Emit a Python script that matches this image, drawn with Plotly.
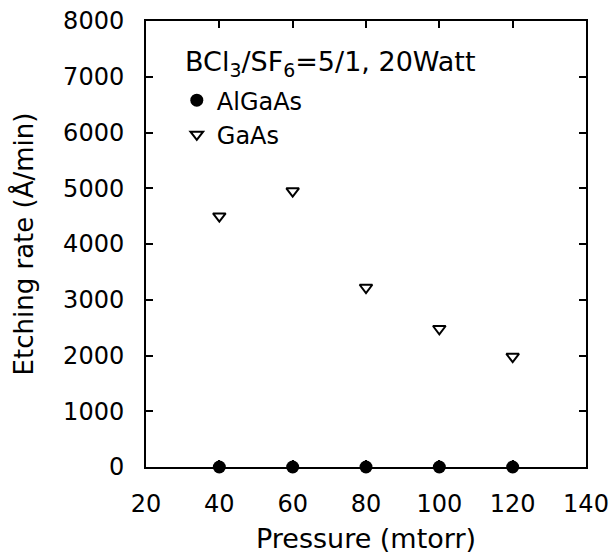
import plotly.graph_objects as go

pressure = [40, 60, 80, 100, 120]
algaas_rate = [0, 0, 0, 0, 0]
gaas_rate = [4500, 4950, 3220, 2480, 1980]
x_ticks = [20, 40, 60, 80, 100, 120, 140]
y_ticks = [0, 1000, 2000, 3000, 4000, 5000, 6000, 7000, 8000]

FONT = "DejaVu Sans"

fig = go.Figure()
fig.add_trace(go.Scatter(
    x=pressure, y=algaas_rate, mode="markers", name="AlGaAs",
    marker=dict(symbol="circle", size=13, color="black"),
    cliponaxis=False,
))
fig.add_trace(go.Scatter(
    x=pressure, y=gaas_rate, mode="markers", name="GaAs",
    marker=dict(symbol="triangle-down-open", size=11, color="black",
                line=dict(width=2, color="black")),
    cliponaxis=False,
))

axis_common = dict(
    showline=True, linecolor="black", linewidth=2, mirror="ticks",
    ticks="inside", ticklen=7, tickwidth=2, tickcolor="black",
    showgrid=False, zeroline=False, automargin=False,
    tickfont=dict(family=FONT, size=24, color="black"),
)

fig.update_xaxes(
    range=[20, 140], tickvals=x_ticks,
    title=dict(text="Pressure (mtorr)", font=dict(family=FONT, size=27, color="black"), standoff=16),
    ticklabelstandoff=14,
    **axis_common,
)
fig.update_yaxes(
    range=[0, 8000], tickvals=y_ticks,
    title=dict(text="Etching rate (Å/min)", font=dict(family=FONT, size=26, color="black"), standoff=22),
    ticklabelstandoff=15,
    **axis_common,
)

fig.add_annotation(
    text="BCl<sub>3</sub>/SF<sub>6</sub>=5/1, 20Watt",
    xref="paper", yref="paper", x=0.084, y=0.9036,
    xanchor="left", yanchor="middle", showarrow=False,
    font=dict(family=FONT, size=27, color="black"),
)

fig.update_layout(
    width=611, height=554,
    margin=dict(l=146, r=25, t=21, b=87),
    paper_bgcolor="white", plot_bgcolor="white",
    showlegend=True,
    legend=dict(
        x=0.07, y=0.872, xanchor="left", yanchor="top",
        font=dict(family=FONT, size=24, color="black"),
        bgcolor="rgba(0,0,0,0)", borderwidth=0,
        tracegroupgap=0,
    ),
)

fig.write_html("out.html")
